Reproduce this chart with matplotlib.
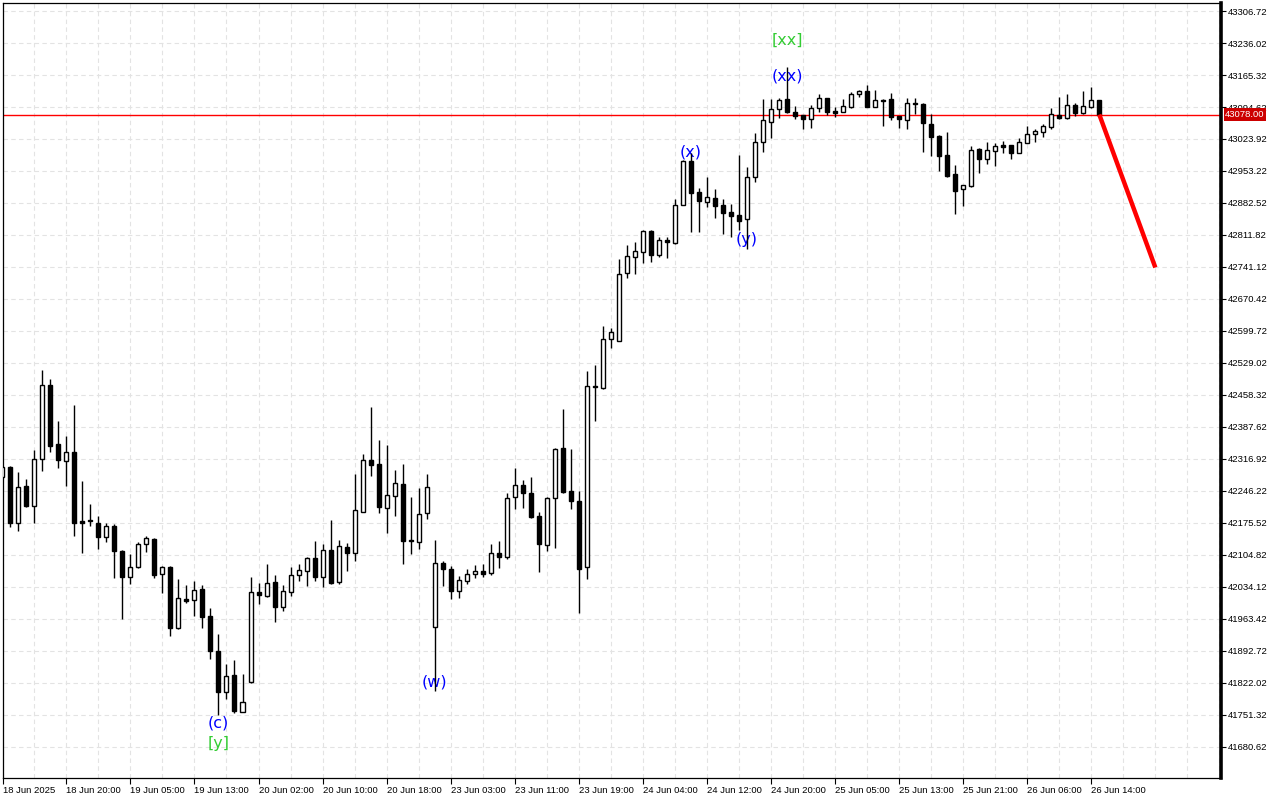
import matplotlib

matplotlib.use("Agg")
import matplotlib.pyplot as plt
import matplotlib.transforms as mtransforms
from matplotlib.ticker import FixedLocator, MultipleLocator

plt.rcParams["font.family"] = ["Liberation Sans", "DejaVu Sans"]

# hourly OHLC, oldest first
OPEN = [
    42277.1, 42299.2, 42175.5, 42257.2, 42213.0, 42316.9, 42480.4, 42350.0, 42312.5, 42332.4,
    42179.9, 42182.1, 42175.5, 42144.6, 42168.9, 42113.6, 42056.2, 42078.3, 42129.1, 42140.1,
    42062.8, 42078.3, 41943.5, 42007.6, 42005.4, 42029.7, 41970.0, 41892.7, 41802.1, 41839.7,
    41757.9, 41824.2, 42023.0, 42014.2, 42045.1, 41989.9, 42023.0, 42060.6, 42069.4, 42098.2,
    42056.2, 42115.8, 42045.1, 42122.5, 42109.2, 42199.8, 42314.7, 42305.8, 42208.6, 42235.1,
    42261.7, 42137.9, 42133.5, 42197.6, 41945.7, 42087.1, 42073.9, 42025.2, 42047.3, 42062.8,
    42069.4, 42065.0, 42109.2, 42100.4, 42232.9, 42259.4, 42241.8, 42190.9, 42126.9, 42230.7,
    42341.2, 42246.2, 42224.1, 42078.3, 42478.2, 42473.8, 42582.0, 42577.6, 42727.8, 42763.2,
    42774.2, 42820.6, 42767.6, 42800.7, 42794.1, 42878.1, 42975.3, 42906.8, 42884.7, 42893.5,
    42878.1, 42862.6, 42856.0, 42847.1, 42939.9, 43017.3, 43061.5, 43090.2, 43112.3, 43083.5,
    43076.9, 43068.1, 43092.4, 43114.5, 43085.8, 43083.5, 43094.6, 43123.3, 43129.9, 43094.6,
    43110.1, 43112.3, 43074.7, 43065.9, 43103.4, 43101.2, 43057.0, 43030.5, 42988.5, 42946.6,
    42913.4, 42920.0, 43001.8, 42979.7, 42997.4, 43010.6, 43010.6, 42993.0, 43015.1, 43034.9,
    43039.4, 43050.4, 43076.9, 43070.3, 43099.0, 43081.3, 43094.6, 43110.1,
]
HIGH = [
    42303.6, 42301.4, 42288.2, 42272.7, 42336.8, 42513.5, 42493.6, 42400.8, 42367.7, 42436.2,
    42268.3, 42217.5, 42190.9, 42175.5, 42173.3, 42115.8, 42107.0, 42133.5, 42146.8, 42142.3,
    42080.5, 42080.0, 42051.8, 42038.5, 42047.3, 42038.5, 41987.7, 41930.2, 41864.0, 41872.8,
    41841.9, 42056.2, 42042.9, 42084.9, 42060.6, 42038.5, 42078.3, 42084.9, 42100.4, 42135.7,
    42129.1, 42182.1, 42137.9, 42131.3, 42283.7, 42327.9, 42431.8, 42358.9, 42347.8, 42292.6,
    42305.8, 42232.9, 42252.8, 42283.7, 42137.9, 42091.5, 42080.5, 42058.4, 42073.9, 42082.7,
    42084.9, 42129.1, 42135.7, 42241.8, 42297.0, 42270.5, 42277.1, 42199.8, 42232.9, 42341.2,
    42427.4, 42339.0, 42246.2, 42511.3, 42524.6, 42610.7, 42606.0, 42758.8, 42789.7, 42796.3,
    42822.8, 42822.0, 42807.4, 42807.4, 42891.3, 42977.5, 42993.0, 42915.6, 42939.9, 42913.4,
    42891.3, 42880.3, 42988.5, 42962.0, 43037.1, 43112.3, 43112.3, 43114.5, 43183.0, 43096.8,
    43077.5, 43099.0, 43123.3, 43115.0, 43094.6, 43112.3, 43127.7, 43132.2, 43143.2, 43132.2,
    43112.3, 43125.5, 43075.5, 43114.5, 43114.5, 43103.4, 43079.1, 43032.7, 43039.4, 42966.4,
    42923.0, 43008.4, 43004.0, 43017.3, 43015.1, 43019.5, 43011.0, 43026.1, 43052.6, 43046.0,
    43057.0, 43092.4, 43116.7, 43123.3, 43103.4, 43129.9, 43138.8, 43111.0,
]
LOW = [
    42270.5, 42166.6, 42157.8, 42210.8, 42175.5, 42290.4, 42332.4, 42297.0, 42257.2, 42146.8,
    42109.2, 42168.9, 42118.1, 42133.5, 42054.0, 41963.4, 42040.7, 42077.0, 42111.4, 42054.0,
    42020.8, 41925.8, 41942.0, 41998.7, 41970.0, 41943.5, 41875.0, 41751.3, 41786.6, 41755.7,
    41757.0, 41823.0, 41996.5, 42012.0, 41956.8, 41981.1, 42014.2, 42047.3, 42036.3, 42047.3,
    42034.1, 42040.7, 42040.7, 42069.4, 42091.5, 42199.0, 42279.3, 42197.6, 42153.4, 42190.9,
    42084.9, 42107.0, 42118.1, 42184.3, 41804.3, 42036.3, 42007.6, 42009.8, 42040.7, 42054.0,
    42056.2, 42060.6, 42076.1, 42095.9, 42206.4, 42208.6, 42186.5, 42067.2, 42113.6, 42120.2,
    42241.8, 42206.4, 41976.6, 42051.8, 42400.8, 42471.6, 42562.1, 42577.0, 42716.8, 42725.6,
    42749.9, 42752.1, 42763.2, 42761.0, 42793.0, 42877.0, 42818.4, 42818.4, 42873.7, 42849.4,
    42814.0, 42807.4, 42822.8, 42780.9, 42928.9, 42995.2, 43026.1, 43070.3, 43081.3, 43068.1,
    43046.0, 43048.2, 43083.5, 43076.9, 43072.5, 43083.0, 43092.4, 43116.7, 43094.0, 43094.0,
    43052.6, 43065.9, 43048.2, 43046.0, 43079.1, 42995.2, 42986.3, 42953.2, 42941.0, 42858.2,
    42875.9, 42917.8, 42948.8, 42968.7, 42964.2, 42993.0, 42979.7, 42992.0, 43014.0, 43017.3,
    43028.3, 43046.0, 43069.0, 43069.0, 43074.7, 43080.0, 43092.4, 43077.0,
]
CLOSE = [
    42299.2, 42175.5, 42255.0, 42213.0, 42316.9, 42480.4, 42345.6, 42314.7, 42332.4, 42175.5,
    42175.5, 42179.9, 42144.6, 42168.9, 42113.6, 42056.2, 42078.3, 42129.1, 42142.3, 42060.6,
    42078.3, 41943.5, 42009.8, 42003.1, 42027.5, 41967.8, 41892.7, 41802.1, 41837.4, 41760.1,
    41780.0, 42023.0, 42016.4, 42042.9, 41989.9, 42025.2, 42060.6, 42071.6, 42098.2, 42056.2,
    42115.8, 42042.9, 42124.7, 42109.2, 42204.2, 42314.7, 42303.6, 42210.8, 42237.3, 42263.9,
    42135.7, 42135.7, 42195.4, 42255.0, 42087.1, 42073.9, 42025.2, 42049.5, 42062.8, 42069.4,
    42062.8, 42109.2, 42100.4, 42230.7, 42259.4, 42241.8, 42188.7, 42129.1, 42230.7, 42339.0,
    42244.0, 42224.1, 42073.9, 42478.2, 42476.0, 42582.0, 42597.5, 42725.6, 42765.4, 42776.4,
    42820.6, 42767.6, 42800.7, 42796.3, 42878.1, 42975.3, 42904.6, 42886.9, 42895.7, 42875.9,
    42860.4, 42853.8, 42842.7, 42939.9, 43017.3, 43065.9, 43090.2, 43110.1, 43083.5, 43074.7,
    43068.1, 43092.4, 43114.5, 43083.5, 43081.3, 43096.8, 43123.3, 43129.9, 43094.6, 43110.1,
    43107.9, 43072.5, 43068.1, 43103.4, 43101.2, 43059.2, 43028.3, 42986.3, 42942.1, 42909.0,
    42922.3, 42999.6, 42979.7, 42999.6, 43008.4, 43006.2, 42993.0, 43017.3, 43034.9, 43041.6,
    43052.6, 43079.1, 43070.3, 43099.0, 43081.3, 43096.8, 43110.1, 43078.0,
]

# time labels every 8 bars
TIME_LABELS = [
    "18 Jun 2025", "18 Jun 20:00", "19 Jun 05:00", "19 Jun 13:00", "20 Jun 02:00",
    "20 Jun 10:00", "20 Jun 18:00", "23 Jun 03:00", "23 Jun 11:00", "23 Jun 19:00",
    "24 Jun 04:00", "24 Jun 12:00", "24 Jun 20:00", "25 Jun 05:00", "25 Jun 13:00",
    "25 Jun 21:00", "26 Jun 06:00", "26 Jun 14:00",
]
PRICE_TICKS = [41680.62 + 70.70 * k for k in range(24)]
CURRENT_PRICE = 43078.00

# wave marks: (label, bar, price, colour)
WAVES = [
    ("(c)", 27, 41733, "#0000ff"),
    ("[y]", 27, 41689, "#33cc33"),
    ("(w)", 54, 41824, "#0000ff"),
    ("(x)", 86, 42995, "#0000ff"),
    ("(y)", 93, 42801, "#0000ff"),
    ("(xx)", 98, 43163, "#0000ff"),
    ("[xx]", 98, 43243, "#33cc33"),
]

# forecast leg from the last close
FORECAST_BARS = [137, 144]
FORECAST_PRICES = [43078.0, 42740.0]

X_LEFT, X_RIGHT = 0.09, 152.2

fig = plt.figure(figsize=(12.8, 8), dpi=100)
ax = fig.add_axes([3 / 1280, 22 / 800, 1218 / 1280, 775 / 800])

n = len(OPEN)
xs = list(range(n))
ax.vlines(xs, LOW, HIGH, color="black", lw=1.0, zorder=3)
bottoms = [min(o, c) for o, c in zip(OPEN, CLOSE)]
heights = [max(abs(c - o), 2.0) for o, c in zip(OPEN, CLOSE)]
faces = ["white" if c >= o else "black" for o, c in zip(OPEN, CLOSE)]
ax.bar(xs, heights, bottom=bottoms, width=0.5, color=faces, edgecolor="black",
       linewidth=1.0, zorder=4)

ax.axhline(CURRENT_PRICE, color="#ff0000", lw=1.0, zorder=2)
ax.plot(FORECAST_BARS, FORECAST_PRICES, color="#ff0000", lw=3.2, zorder=5,
        solid_capstyle="butt")

for txt, bar, price, col in WAVES:
    ax.text(bar, price, txt, color=col, fontsize=11.5, ha="center", va="center",
            family="DejaVu Sans", zorder=2)

ax.set_xlim(X_LEFT, X_RIGHT)
ax.set_ylim(41612.1, 43324.4)

# first label sits on the left edge of the plot
tick_pos = [max(8 * k, X_LEFT + 0.01) for k in range(len(TIME_LABELS))]
ax.xaxis.set_major_locator(FixedLocator(tick_pos))
ax.xaxis.set_minor_locator(MultipleLocator(4))
ax.set_xticklabels(TIME_LABELS)
for lab in ax.get_xticklabels():
    lab.set_ha("left")
ax.tick_params(axis="x", which="major", length=4, width=0.8, pad=1.5,
               labelsize=6.8, direction="out")
ax.tick_params(axis="x", which="minor", length=0)

ax.yaxis.tick_right()
ax.set_yticks(PRICE_TICKS)
ax.set_yticklabels([f"{v:.2f}" for v in PRICE_TICKS])
ax.tick_params(axis="y", length=3.5, width=0.8, pad=1.5, labelsize=6.8,
               direction="out")

ax.grid(which="both", axis="x", color="#e3e3e3", lw=0.8, ls=(0, (4, 3)), zorder=0)
ax.grid(which="major", axis="y", color="#e3e3e3", lw=0.8, ls=(0, (4, 3)), zorder=0)
ax.set_axisbelow(True)

for side in ("left", "top", "bottom"):
    ax.spines[side].set_linewidth(0.9)
ax.spines["right"].set_linewidth(2.6)

trans = mtransforms.blended_transform_factory(ax.transAxes, ax.transData)
ax.text(1.0035, CURRENT_PRICE, f"{CURRENT_PRICE:.2f}", transform=trans, ha="left",
        va="center", color="white", fontsize=6.8, clip_on=False, zorder=6,
        bbox={"boxstyle": "square,pad=0.18", "fc": "#cc0000", "ec": "none"})

fig.savefig("out.png", dpi=100)
